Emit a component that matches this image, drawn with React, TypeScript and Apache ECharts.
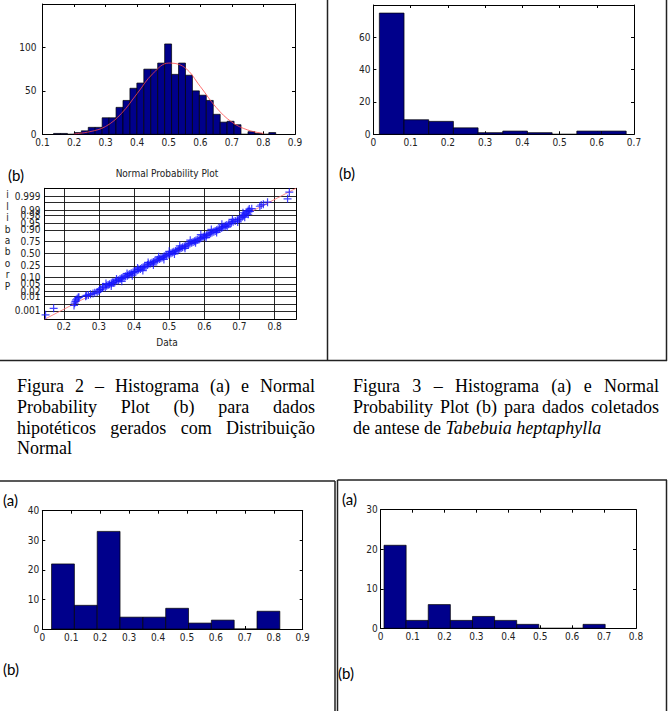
import React, { useEffect, useRef } from 'react';
import * as echarts from 'echarts';

const NARROW = '"Liberation Sans Narrow", "DejaVu Sans Condensed", Arial, sans-serif';
const SERIF = '"Liberation Serif", "Times New Roman", serif';
const PANEL = 'Lato, "Open Sans", sans-serif';

// ---- Figura 2 (a): histogram of simulated normal data ----
const hist1BinStart = 0.135;
const hist1BinWidth = 0.022;
const hist1Counts = [1, 1, 0, 2, 4, 8, 8, 19, 19, 31, 39, 53, 59, 75, 75, 82, 104, 69, 82, 68, 50, 45, 39, 23, 14, 15, 11, 0, 3, 1, 0, 2];
const normalFitX = [0.2, 0.25, 0.3, 0.35, 0.4, 0.45, 0.5, 0.55, 0.6, 0.65, 0.7, 0.75, 0.8];
const normalFitY = [0.5, 3, 9, 24, 47, 70, 82, 77, 55, 31, 14, 5, 1];

// ---- Figura 2 (b): normal probability plot ----
const probTickLabels = ['0.001', '0.003', '0.01', '0.02', '0.05', '0.10', '0.25', '0.50', '0.75', '0.90', '0.95', '0.98', '0.99', '0.997', '0.999'];
const probTickZ = [-3.09, -2.75, -2.33, -2.05, -1.64, -1.28, -0.67, 0, 0.67, 1.28, 1.64, 2.05, 2.33, 2.75, 3.09];
const probXTicks = [0.2, 0.3, 0.4, 0.5, 0.6, 0.7, 0.8];
const probRefLine = [[0.145, -3.55], [0.861, 3.52]];
const probPoints = [
  [0.148, -3.31], [0.171, -2.96],
  [0.229, -2.8], [0.231, -2.68], [0.233, -2.58], [0.235, -2.5], [0.238, -2.44], [0.241, -2.38], [0.243, -2.36],
  [0.262, -2.3], [0.265, -2.26], [0.27, -2.24], [0.276, -2.2], [0.283, -2.16], [0.288, -2.12], [0.295, -2.08], [0.3, -2.02], [0.302, -1.95],
  [0.305, -1.92], [0.31, -1.86], [0.312, -1.8], [0.318, -1.82], [0.322, -1.74], [0.326, -1.7], [0.33, -1.66], [0.335, -1.62],
  [0.338, -1.56], [0.342, -1.58], [0.347, -1.5], [0.351, -1.46], [0.356, -1.44], [0.36, -1.38], [0.364, -1.34], [0.368, -1.3],
  [0.372, -1.26], [0.376, -1.22], [0.381, -1.2], [0.385, -1.14], [0.388, -1.1], [0.392, -1.06], [0.397, -1.02], [0.401, -0.98],
  [0.405, -0.96], [0.409, -0.9], [0.413, -0.86], [0.418, -0.84], [0.422, -0.78], [0.426, -0.74], [0.43, -0.7], [0.434, -0.68],
  [0.438, -0.62], [0.442, -0.58], [0.447, -0.54], [0.451, -0.5], [0.455, -0.46], [0.459, -0.42], [0.463, -0.38], [0.467, -0.34],
  [0.472, -0.3], [0.476, -0.26], [0.48, -0.22], [0.484, -0.18], [0.488, -0.14], [0.492, -0.1], [0.497, -0.06], [0.501, -0.02],
  [0.505, 0.02], [0.509, 0.06], [0.513, 0.1], [0.518, 0.14], [0.522, 0.18], [0.526, 0.22], [0.53, 0.26], [0.534, 0.3],
  [0.538, 0.34], [0.543, 0.38], [0.547, 0.42], [0.551, 0.46], [0.555, 0.5], [0.559, 0.54], [0.564, 0.58], [0.568, 0.62],
  [0.572, 0.66], [0.576, 0.7], [0.58, 0.74], [0.585, 0.78], [0.589, 0.82], [0.593, 0.86], [0.597, 0.9], [0.601, 0.94],
  [0.606, 0.98], [0.61, 1.02], [0.614, 1.06], [0.618, 1.1], [0.622, 1.14], [0.627, 1.18], [0.631, 1.22], [0.635, 1.26],
  [0.639, 1.3], [0.643, 1.34], [0.648, 1.38], [0.652, 1.42], [0.656, 1.46], [0.66, 1.5], [0.664, 1.54], [0.669, 1.58],
  [0.673, 1.62], [0.677, 1.66], [0.682, 1.72], [0.688, 1.76], [0.694, 1.82], [0.699, 1.86], [0.704, 1.92], [0.708, 1.98],
  [0.712, 2.04], [0.716, 2.12], [0.72, 2.18], [0.722, 2.26], [0.725, 2.32], [0.728, 2.4],
  [0.735, 2.42], [0.758, 2.55], [0.762, 2.62], [0.768, 2.66], [0.78, 2.77], [0.837, 2.95], [0.842, 3.31],
  // points scattered on either side of the band
  [0.32, -1.62], [0.335, -1.75], [0.35, -1.38], [0.365, -1.5], [0.38, -1.08], [0.395, -1.2], [0.41, -0.78], [0.425, -0.92],
  [0.44, -0.48], [0.455, -0.62], [0.47, -0.18], [0.485, -0.32], [0.5, 0.12], [0.515, -0.02], [0.53, 0.42], [0.545, 0.28],
  [0.56, 0.72], [0.575, 0.58], [0.59, 1.02], [0.605, 0.86], [0.62, 1.3], [0.635, 1.14], [0.65, 1.58], [0.665, 1.44],
  [0.68, 1.84], [0.695, 1.7], [0.71, 2.2], [0.715, 1.96], [0.725, 2.12], [0.73, 2.28],
];

// ---- Figura 3 (a): antese de Tabebuia heptaphylla ----
const hist2BinStart = 0.016;
const hist2BinWidth = 0.0663;
const hist2Counts = [75, 9, 8, 4, 1, 2, 1, 0, 2, 2];

// ---- bottom-left (a) ----
const hist3BinStart = 0.032;
const hist3BinWidth = 0.0789;
const hist3Counts = [22, 8, 33, 4, 4, 7, 2, 3, 0, 6];

// ---- bottom-right (a) ----
const hist4BinStart = 0.0104;
const hist4BinWidth = 0.0693;
const hist4Counts = [21, 2, 6, 2, 3, 2, 1, 0, 0, 1];

// ---- captions ----
const captionLeft = [
  ['Figura', '2', '–', 'Histograma', '(a)', 'e', 'Normal'],
  ['Probability', 'Plot', '(b)', 'para', 'dados'],
  ['hipotéticos', 'gerados', 'com', 'Distribuição'],
  ['Normal'],
];
const captionRight = [
  ['Figura', '3', '–', 'Histograma', '(a)', 'e', 'Normal'],
  ['Probability', 'Plot', '(b)', 'para', 'dados', 'coletados'],
];
const captionRightLast = 'de antese de ';
const captionRightItalic = 'Tabebuia heptaphylla';
const yLabelStacked = ['i', 'l', 'i', 'b', 'a', 'b', 'o', 'r', 'P'];

const binsToData = (start: number, w: number, counts: number[]) =>
  counts.map((c, i) => [start + i * w, start + (i + 1) * w, c]);

const histRender = (_params: any, api: any) => {
  const x0 = api.value(0);
  const x1 = api.value(1);
  const c = api.value(2);
  const a = api.coord([x0, c]);
  const b = api.coord([x1, 0]);
  return {
    type: 'rect',
    shape: { x: a[0], y: a[1], width: b[0] - a[0], height: b[1] - a[1] },
    style: { fill: '#00008b', stroke: '#000', lineWidth: 0.7 },
  };
};

const labelFont = { fontSize: 10, fontFamily: NARROW, color: '#222' };
const blackLine = { color: '#000', width: 1 };

function xPair(gi: number, min: number, max: number, interval: number, margin = 3) {
  return [
    {
      type: 'value', gridIndex: gi, position: 'bottom', min, max, interval,
      axisLine: { show: true, onZero: false, lineStyle: blackLine },
      axisTick: { show: true, inside: true, length: 3, lineStyle: blackLine },
      axisLabel: { show: true, margin, hideOverlap: false, showMinLabel: true, showMaxLabel: true, ...labelFont },
      splitLine: { show: false },
    },
    {
      type: 'value', gridIndex: gi, position: 'top', min, max, interval,
      axisLine: { show: true, onZero: false, lineStyle: blackLine },
      axisTick: { show: true, inside: true, length: 3, lineStyle: blackLine },
      axisLabel: { show: false },
      splitLine: { show: false },
    },
  ];
}
function yPair(gi: number, max: number, interval: number, margin: number, showMax: boolean) {
  return [
    {
      type: 'value', gridIndex: gi, position: 'left', min: 0, max, interval,
      axisLine: { show: true, onZero: false, lineStyle: blackLine },
      axisTick: { show: true, inside: true, length: 3, lineStyle: blackLine },
      axisLabel: { show: true, margin, showMinLabel: true, showMaxLabel: showMax, hideOverlap: false, ...labelFont },
      splitLine: { show: false },
    },
    {
      type: 'value', gridIndex: gi, position: 'right', min: 0, max, interval,
      axisLine: { show: true, onZero: false, lineStyle: blackLine },
      axisTick: { show: true, inside: true, length: 3, lineStyle: blackLine },
      axisLabel: { show: false },
      splitLine: { show: false },
    },
  ];
}

function measure(text: string, font: string) {
  const ctx = document.createElement('canvas').getContext('2d') as CanvasRenderingContext2D;
  ctx.font = font;
  return ctx.measureText(text).width;
}

function textEl(x: number, y: number, text: string, size: number, family: string, extra: any = {}) {
  const align = extra.align || 'left';
  return {
    type: 'text', x, y, silent: true,
    style: {
      text, fontSize: size, fontFamily: family, fill: extra.fill || '#000',
      fontStyle: extra.italic ? 'italic' : 'normal',
      textAlign: align, align, textVerticalAlign: 'middle', verticalAlign: 'middle',
      lineHeight: extra.lineHeight,
    },
  };
}

const CAP_SIZE = 18;
function captionLine(words: string[], left: number, right: number, y: number, justify: boolean) {
  const font = `${CAP_SIZE}px "Liberation Serif"`;
  const widths = words.map((w) => measure(w, font));
  const total = widths.reduce((s, v) => s + v, 0);
  const gap = justify && words.length > 1 ? (right - left - total) / (words.length - 1) : measure(' ', font);
  const els: any[] = [];
  let x = left;
  words.forEach((w, i) => {
    els.push(textEl(x, y, w, CAP_SIZE, SERIF));
    x += widths[i] + gap;
  });
  return els;
}

function lineEl(x1: number, y1: number, x2: number, y2: number) {
  return { type: 'line', silent: true, shape: { x1, y1, x2, y2 }, style: { stroke: '#222', lineWidth: 1.5 } };
}

export default function App() {
  const ref = useRef<HTMLDivElement>(null);
  useEffect(() => {
    if (!ref.current) return;
    const chart = echarts.init(ref.current, null, { renderer: 'svg' });

    const capY = [386, 407, 427.5, 448];
    const graphics: any[] = [
      lineEl(327.5, 0, 327.5, 361),
      lineEl(666.5, 0, 666.5, 361),
      lineEl(0, 360.5, 667, 360.5),
      lineEl(0, 481, 335, 481),
      lineEl(335, 481, 335, 711),
      lineEl(337.5, 480, 667, 480),
      lineEl(337.5, 480, 337.5, 711),
      lineEl(666.5, 480, 666.5, 711),
      textEl(8, 175, '(b)', 15, PANEL),
      textEl(339, 173, '(b)', 15, PANEL),
      textEl(3, 500, '(a)', 15, PANEL),
      textEl(3, 669, '(b)', 15, PANEL),
      textEl(342, 499, '(a)', 15, PANEL),
      textEl(338, 673, '(b)', 15, PANEL),
      textEl(167, 173, 'Normal Probability Plot', 10, NARROW, { align: 'center', fill: '#222' }),
      textEl(167, 342, 'Data', 10, NARROW, { align: 'center', fill: '#222' }),
      textEl(7.5, 240.5, yLabelStacked.join('\n'), 10, NARROW, { align: 'center', fill: '#222', lineHeight: 11.4 }),
    ];
    captionLeft.forEach((words, i) => {
      graphics.push(...captionLine(words, 17, 315, capY[i], i < captionLeft.length - 1));
    });
    captionRight.forEach((words, i) => {
      graphics.push(...captionLine(words, 353, 659, capY[i], true));
    });
    graphics.push(textEl(353, capY[2], captionRightLast.trim(), CAP_SIZE, SERIF));
    const italicX = 353 + measure(captionRightLast, `${CAP_SIZE}px "Liberation Serif"`);
    graphics.push(textEl(italicX, capY[2], captionRightItalic, CAP_SIZE, SERIF, { italic: true }));

    const probFormatter = (v: number) => {
      let best = 0;
      probTickZ.forEach((z, i) => {
        if (Math.abs(z - v) < Math.abs(probTickZ[best] - v)) best = i;
      });
      return probTickLabels[best];
    };

    const gridBase = { containLabel: false, outerBoundsMode: 'none', show: false };
    const option: any = {
      animation: false,
      backgroundColor: '#fff',
      grid: [
        { ...gridBase, left: 42.5, top: 4, width: 252.5, height: 130.3 },
        { ...gridBase, left: 373.4, top: 5, width: 260.6, height: 129.3 },
        { ...gridBase, left: 44.5, top: 188.3, width: 251.5, height: 131 },
        { ...gridBase, left: 42.3, top: 510.7, width: 260.4, height: 118.3 },
        { ...gridBase, left: 380.7, top: 509.7, width: 255.3, height: 118.6 },
      ],
      xAxis: [
        ...xPair(0, 0.1, 0.9, 0.1),
        ...xPair(1, 0, 0.7, 0.1),
        {
          type: 'value', gridIndex: 2, position: 'bottom', min: 0.145, max: 0.861,
          axisLine: { show: true, onZero: false, lineStyle: blackLine },
          axisTick: { show: false, customValues: probXTicks },
          axisLabel: { show: true, margin: 2, customValues: probXTicks, hideOverlap: false, showMinLabel: true, showMaxLabel: true, ...labelFont },
          splitLine: { show: true, lineStyle: { color: '#111', width: 0.9 } },
        },
        {
          type: 'value', gridIndex: 2, position: 'top', min: 0.145, max: 0.861,
          axisLine: { show: true, onZero: false, lineStyle: blackLine },
          axisTick: { show: false }, axisLabel: { show: false }, splitLine: { show: false },
        },
        ...xPair(3, 0, 0.9, 0.1),
        ...xPair(4, 0, 0.8, 0.1),
      ],
      yAxis: [
        ...yPair(0, 150, 50, 6, false),
        ...yPair(1, 80, 20, 3, false),
        {
          type: 'value', gridIndex: 2, position: 'left', min: -3.55, max: 3.52,
          axisLine: { show: true, onZero: false, lineStyle: blackLine },
          axisTick: { show: false, customValues: probTickZ },
          axisLabel: {
            show: true, margin: 4, customValues: probTickZ, formatter: probFormatter,
            hideOverlap: false, showMinLabel: true, showMaxLabel: true, ...labelFont,
          },
          splitLine: { show: true, lineStyle: { color: '#111', width: 0.9 } },
        },
        {
          type: 'value', gridIndex: 2, position: 'right', min: -3.55, max: 3.52,
          axisLine: { show: true, onZero: false, lineStyle: blackLine },
          axisTick: { show: false }, axisLabel: { show: false }, splitLine: { show: false },
        },
        ...yPair(3, 40, 10, 3, true),
        ...yPair(4, 30, 10, 3, true),
      ],
      series: [
        {
          type: 'custom', xAxisIndex: 0, yAxisIndex: 0, renderItem: histRender,
          encode: { x: [0, 1], y: 2 }, data: binsToData(hist1BinStart, hist1BinWidth, hist1Counts),
        },
        {
          type: 'line', xAxisIndex: 0, yAxisIndex: 0, smooth: 0.4, symbol: 'none', z: 5,
          lineStyle: { color: '#ff4a4a', width: 0.8 },
          data: normalFitX.map((x, i) => [x, normalFitY[i]]),
        },
        {
          type: 'custom', xAxisIndex: 2, yAxisIndex: 2, renderItem: histRender,
          encode: { x: [0, 1], y: 2 }, data: binsToData(hist2BinStart, hist2BinWidth, hist2Counts),
        },
        {
          type: 'line', xAxisIndex: 4, yAxisIndex: 4, symbol: 'none', z: 3,
          lineStyle: { color: '#ff6f6f', width: 0.8 },
          data: probRefLine,
        },
        {
          type: 'scatter', xAxisIndex: 4, yAxisIndex: 4, z: 4,
          symbol: 'path://M5 0 L5 10 M0 5 L10 5', symbolSize: 8,
          itemStyle: { color: 'transparent', borderColor: '#1414ff', borderWidth: 1.2 },
          data: probPoints,
        },
        {
          type: 'custom', xAxisIndex: 6, yAxisIndex: 6, renderItem: histRender,
          encode: { x: [0, 1], y: 2 }, data: binsToData(hist3BinStart, hist3BinWidth, hist3Counts),
        },
        {
          type: 'custom', xAxisIndex: 8, yAxisIndex: 8, renderItem: histRender,
          encode: { x: [0, 1], y: 2 }, data: binsToData(hist4BinStart, hist4BinWidth, hist4Counts),
        },
      ],
      graphic: { elements: graphics },
    };
    chart.setOption(option);
    return () => chart.dispose();
  }, []);

  return (
    <div
      ref={ref}
      style={{ position: 'absolute', left: 0, top: 0, width: 669, height: 711, background: '#fff' }}
    />
  );
}
